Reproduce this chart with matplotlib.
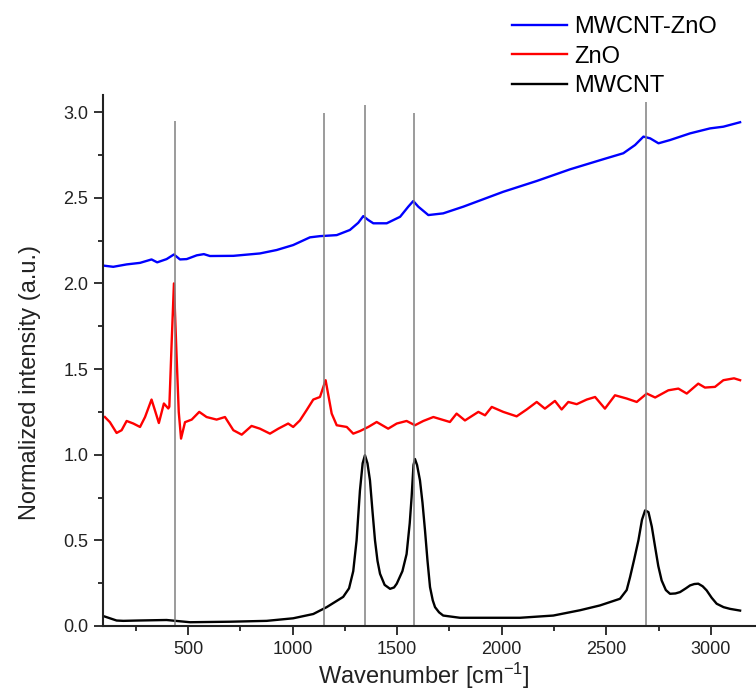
import numpy as np
import matplotlib
matplotlib.use('Agg')
import matplotlib.pyplot as plt

plt.rcParams['font.family'] = ['Liberation Sans', 'DejaVu Sans']
plt.rcParams['mathtext.default'] = 'regular'

# MWCNT (black)
x_cnt = [103, 159, 191, 260, 398, 510, 700, 876, 1003, 1099, 1163, 1242, 1270,
         1290, 1306, 1322, 1335, 1346, 1358, 1370, 1382, 1394, 1406, 1418, 1440,
         1466, 1485, 1498, 1525, 1545, 1560, 1569, 1578, 1585, 1595, 1609, 1621,
         1633, 1645, 1657, 1670, 1681, 1700, 1720, 1800, 2087, 2246, 2374, 2469,
         2565, 2597, 2613, 2633, 2653, 2670, 2685, 2701, 2717, 2733, 2748, 2764,
         2784, 2804, 2830, 2852, 2880, 2900, 2920, 2939, 2960, 2979, 3003, 3027,
         3060, 3091, 3139]
y_cnt = [0.055, 0.032, 0.030, 0.032, 0.035, 0.022, 0.025, 0.030, 0.045, 0.070,
         0.110, 0.170, 0.220, 0.320, 0.500, 0.790, 0.950, 0.997, 0.950, 0.850,
         0.670, 0.500, 0.380, 0.305, 0.240, 0.217, 0.225, 0.247, 0.320, 0.420,
         0.600, 0.753, 0.940, 0.975, 0.940, 0.850, 0.720, 0.558, 0.380, 0.227,
         0.150, 0.110, 0.080, 0.061, 0.048, 0.048, 0.061, 0.092, 0.120, 0.159,
         0.210, 0.285, 0.390, 0.500, 0.620, 0.675, 0.665, 0.580, 0.460, 0.350,
         0.266, 0.210, 0.188, 0.190, 0.198, 0.220, 0.237, 0.245, 0.247, 0.232,
         0.208, 0.165, 0.130, 0.110, 0.100, 0.090]

# ZnO (red)
x_zno = [103, 127, 159, 183, 207, 239, 271, 295, 326, 342, 361, 385, 406, 411,
         422, 433, 445, 456, 467, 486, 518, 554, 589, 637, 677, 717, 757, 804,
         844, 892, 932, 979, 1003, 1035, 1067, 1099, 1131, 1158, 1187, 1211,
         1259, 1290, 1322, 1362, 1402, 1457, 1498, 1545, 1585, 1625, 1673, 1752,
         1784, 1824, 1888, 1920, 1952, 2007, 2071, 2119, 2167, 2206, 2254, 2286,
         2318, 2358, 2406, 2446, 2493, 2541, 2597, 2645, 2693, 2733, 2796, 2844,
         2884, 2939, 2971, 3019, 3059, 3110, 3139]
y_zno = [1.220, 1.190, 1.127, 1.143, 1.197, 1.182, 1.162, 1.220, 1.322, 1.260,
         1.185, 1.299, 1.270, 1.280, 1.650, 2.000, 1.600, 1.250, 1.094, 1.190,
         1.205, 1.250, 1.220, 1.205, 1.220, 1.143, 1.117, 1.168, 1.152, 1.123,
         1.152, 1.182, 1.162, 1.200, 1.260, 1.322, 1.337, 1.435, 1.240, 1.172,
         1.162, 1.123, 1.138, 1.162, 1.191, 1.152, 1.182, 1.197, 1.172, 1.197,
         1.220, 1.191, 1.240, 1.200, 1.250, 1.230, 1.279, 1.250, 1.224, 1.264,
         1.308, 1.269, 1.314, 1.264, 1.308, 1.295, 1.322, 1.337, 1.269, 1.347,
         1.328, 1.308, 1.357, 1.334, 1.376, 1.386, 1.357, 1.415, 1.392, 1.396,
         1.435, 1.446, 1.435]

# MWCNT-ZnO (blue)
x_mix = [103, 143, 207, 271, 326, 353, 398, 433, 462, 494, 542, 576, 605, 717,
         844, 924, 1003, 1083, 1131, 1211, 1274, 1314, 1338, 1362, 1386, 1450,
         1514, 1553, 1577, 1601, 1649, 1720, 1816, 2007, 2167, 2326, 2485, 2581,
         2637, 2677, 2709, 2749, 2804, 2900, 2995, 3059, 3139]
y_mix = [2.103, 2.097, 2.111, 2.120, 2.140, 2.123, 2.142, 2.169, 2.140, 2.142,
         2.164, 2.171, 2.160, 2.161, 2.175, 2.195, 2.224, 2.269, 2.276, 2.282,
         2.312, 2.354, 2.393, 2.370, 2.351, 2.351, 2.389, 2.448, 2.481, 2.448,
         2.399, 2.409, 2.448, 2.535, 2.598, 2.666, 2.725, 2.760, 2.808, 2.857,
         2.847, 2.818, 2.837, 2.876, 2.905, 2.915, 2.941]

# marker lines
peak_pos = [437, 1152, 1345, 1580, 2688]
peak_top = [2.951, 2.994, 3.039, 2.994, 3.057]

fig = plt.figure(figsize=(7.56, 6.93), dpi=100)
ax = fig.add_axes([103 / 756, 67 / 693, 653 / 756, 531 / 693])

ax.plot(x_mix, y_mix, color='#0000ff', lw=1.7, label='MWCNT-ZnO')
ax.plot(x_zno, y_zno, color='#ff0000', lw=1.7, label='ZnO')
ax.plot(x_cnt, y_cnt, color='#000000', lw=1.7, label='MWCNT')
ax.vlines(peak_pos, 0, peak_top, color='#808080', lw=1.1)

ax.set_xlim(94, 3215)
ax.set_ylim(0, 3.1)
ax.set_xticks([500, 1000, 1500, 2000, 2500, 3000])
ax.set_xticks(np.arange(250, 3250, 500), minor=True)
ax.set_yticks([0.0, 0.5, 1.0, 1.5, 2.0, 2.5, 3.0])
ax.set_yticks(np.arange(0.25, 3.0, 0.5), minor=True)
ax.yaxis.set_major_formatter(matplotlib.ticker.FormatStrFormatter('%.1f'))

for s in ['top', 'right']:
    ax.spines[s].set_visible(False)
for s in ['left', 'bottom']:
    ax.spines[s].set_linewidth(1.5)
    ax.spines[s].set_color('#222222')
ax.tick_params(which='major', length=6.5, width=1.3, labelsize=13,
               colors='#222222', pad=4)
ax.tick_params(which='minor', length=3.8, width=1.3, colors='#222222')

ax.set_xlabel('Wavenumber [cm$^{-1}$]', fontsize=17, color='#222222')
ax.set_ylabel('Normalized intensity (a.u.)', fontsize=17, color='#222222')
ax.xaxis.set_label_coords(0.492, -0.066)
ax.yaxis.set_label_coords(-0.095, 0.458)

ax.legend(loc='upper left', bbox_to_anchor=(512 / 756, 1 - 16 / 693),
          bbox_transform=fig.transFigure, frameon=False, fontsize=17,
          handlelength=2.35, handletextpad=0.3, labelspacing=0.32,
          borderpad=0, borderaxespad=0)

fig.savefig('out.png', dpi=100)
